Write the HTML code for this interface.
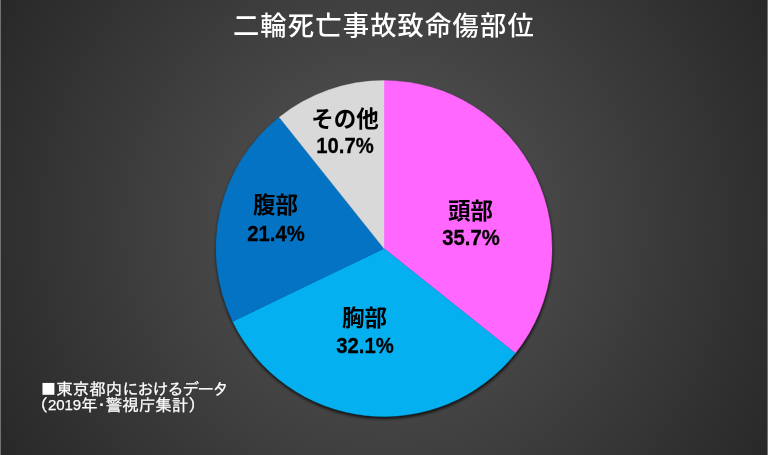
<!DOCTYPE html>
<html lang="ja">
<head>
<meta charset="utf-8">
<title>二輪死亡事故致命傷部位</title>
<style>
html, body { margin: 0; padding: 0; }
body { width: 768px; height: 455px; overflow: hidden; background: #282828; }
#chart { position: relative; width: 768px; height: 455px; overflow: hidden;
  background: radial-gradient(circle 446px at 384px 228px, #585858 0%, #282828 100%);
  font-family: "Liberation Sans", "Noto Sans CJK JP", sans-serif; }
#chart::before, #chart::after { content: ""; position: absolute; top: 0; width: 1px; height: 455px; background: #727272; z-index: 5; }
#chart::before { left: 0; }
#chart::after { right: 0; }
svg { position: absolute; left: 0; top: 0; }
h1 { position: absolute; left: -0.7px; top: 8.4px; width: 768px; margin: 0; text-align: center; color: #fff;
  font-size: 26.3px; line-height: 36px; font-weight: 500; white-space: nowrap; letter-spacing: 1.15px; text-indent: 1.15px; }
.lab { position: absolute; width: 0; height: 0; color: #000; font-weight: 700; white-space: nowrap; }
.lab span { position: absolute; left: -60px; width: 120px; text-align: center; display: block; }
.lab .n { font-size: 22.5px; line-height: 30px; top: -13.5px; }
.lab .p { font-size: 22px; line-height: 30px; top: -15.3px; transform: scaleX(0.92); -webkit-text-stroke: 0.3px #000; }
.note { position: absolute; left: 39.7px; top: 379.6px; margin: 0; color: #fff; font-family: "Liberation Sans", "IPAGothic", sans-serif;
  font-size: 16.5px; line-height: 16.7px; white-space: nowrap; -webkit-text-stroke: 0.25px #fff; }
.note .sq { display: inline-block; width: 16.5px; text-align: center; font-size: 24.4px; line-height: 16.7px; vertical-align: -1.4px; -webkit-text-stroke: 0; position: relative; left: 0.6px; }
.note .k { letter-spacing: -1.44px; }
.note .lp { margin-left: -8.25px; }
.note .rp { margin-right: -8.25px; }
.note .h { font-size: 15px; letter-spacing: -0.09px; line-height: 16.7px; position: relative; top: -0.8px; }
.note .d { margin: 0 -4.125px; }
</style>
</head>
<body>
<div id="chart">
<svg width="768" height="455" viewBox="0 0 768 455">
<defs><filter id="sh" x="-10%" y="-10%" width="120%" height="120%"><feGaussianBlur stdDeviation="1.4"/></filter></defs>
<circle cx="384.4" cy="250.5" r="168.5" fill="#000" opacity="0.75" filter="url(#sh)"/>
<path d="M384.0 248.5 L384.00 80.50 A168.0 168.0 0 0 1 515.35 353.25 Z" fill="#ff67fe" stroke="#ff67fe" stroke-width="0.4"/>
<path d="M384.0 248.5 L515.35 353.25 A168.0 168.0 0 0 1 232.64 321.39 Z" fill="#05b0f1" stroke="#05b0f1" stroke-width="0.4"/>
<path d="M384.0 248.5 L232.64 321.39 A168.0 168.0 0 0 1 279.25 117.15 Z" fill="#0573c4" stroke="#0573c4" stroke-width="0.4"/>
<path d="M384.0 248.5 L279.25 117.15 A168.0 168.0 0 0 1 384.00 80.50 Z" fill="#d9d9d9" stroke="#d9d9d9" stroke-width="0.4"/>
</svg>
<h1>二輪死亡事故致命傷部位</h1>
<div class="lab" style="left:470.5px; top:210.3px;"><span class="n">頭部</span></div>
<div class="lab" style="left:470.5px; top:237.9px;"><span class="p">35.7%</span></div>
<div class="lab" style="left:364.4px; top:317.5px;"><span class="n">胸部</span></div>
<div class="lab" style="left:365.2px; top:346.7px;"><span class="p">32.1%</span></div>
<div class="lab" style="left:275.4px; top:204.8px;"><span class="n">腹部</span></div>
<div class="lab" style="left:276.1px; top:234.4px;"><span class="p">21.4%</span></div>
<div class="lab" style="left:345.0px; top:118.0px;"><span class="n">その他</span></div>
<div class="lab" style="left:345.0px; top:146.3px;"><span class="p">10.7%</span></div>
<p class="note"><span class="sq">■</span>東京都内<span class="k">におけるデータ</span><br><span class="lp">（</span><span class="h">2019</span>年<span class="d">・</span>警視庁集計<span class="rp">）</span></p>
</div>
</body>
</html>
